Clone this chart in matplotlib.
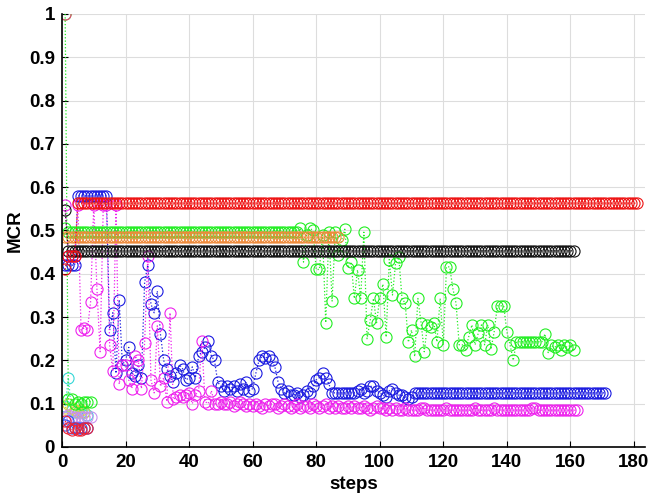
import numpy as np
import matplotlib
matplotlib.use("Agg")
import matplotlib.pyplot as plt
from matplotlib.ticker import FuncFormatter

plt.rcParams["font.family"] = ["Liberation Sans", "DejaVu Sans"]

# MCR per step for each run
red_mcr = [0.41, 0.44, 0.44, 0.44] + [0.563] * 177
black_mcr = [0.547] + [0.453] * 160
orange_mcr = [0.485] * 87

green_mcr = [0.505] + [0.497] * 73 + [
    0.505, 0.427, 0.49, 0.505, 0.5, 0.41, 0.41, 0.49, 0.287, 0.497,
    0.337, 0.497, 0.443, 0.478, 0.503, 0.414, 0.427, 0.343, 0.409, 0.343,
    0.496, 0.25, 0.293, 0.343, 0.287,
    0.344, 0.376, 0.254, 0.433, 0.351, 0.426, 0.438, 0.343, 0.332, 0.242,
    0.27, 0.209, 0.343, 0.287, 0.22, 0.282, 0.278, 0.287, 0.243, 0.343,
    0.236, 0.416, 0.416, 0.366, 0.332, 0.236, 0.236, 0.224, 0.255, 0.282,
    0.236, 0.263, 0.282, 0.236, 0.282, 0.226, 0.266, 0.326, 0.326, 0.326,
    0.266, 0.236, 0.2, 0.243, 0.243, 0.243, 0.243, 0.243, 0.243, 0.243,
    0.243, 0.243, 0.261, 0.218, 0.235, 0.23, 0.235, 0.225, 0.235, 0.23,
    0.235, 0.224]

blue_mcr = [0.42] * 4 + [0.58] * 10 + [
    0.27, 0.31, 0.17, 0.34, 0.19, 0.2, 0.23, 0.17, 0.165, 0.19,
    0.16, 0.38, 0.42, 0.33, 0.31, 0.36, 0.26, 0.2, 0.18, 0.165,
    0.15, 0.17, 0.19, 0.18, 0.155, 0.16, 0.185, 0.16, 0.21, 0.22,
    0.23, 0.245, 0.21, 0.2, 0.15,
    0.14, 0.13, 0.14, 0.135, 0.14, 0.13, 0.145, 0.135, 0.15, 0.13, 0.135,
    0.17, 0.2, 0.21, 0.205, 0.21, 0.2, 0.185, 0.15, 0.135, 0.125,
    0.13, 0.12, 0.12, 0.125, 0.115, 0.12, 0.13, 0.125, 0.14, 0.155,
    0.16, 0.17, 0.16, 0.145, 0.125, 0.125, 0.125, 0.125, 0.125, 0.125,
    0.125, 0.125, 0.13, 0.135, 0.125, 0.13, 0.14, 0.14, 0.13, 0.125,
    0.12, 0.115, 0.13, 0.135, 0.125, 0.12, 0.12, 0.115, 0.11, 0.115, 0.125,
] + [0.125] * 60

magenta_mcr = [
    0.56, 0.44, 0.44, 0.44, 0.56, 0.27, 0.275, 0.27, 0.335, 0.56,
    0.365, 0.22, 0.56, 0.56, 0.235, 0.175, 0.56, 0.145, 0.19, 0.19,
    0.155, 0.135, 0.21, 0.2, 0.135, 0.24, 0.44, 0.155, 0.125, 0.28,
    0.14, 0.16, 0.105, 0.31, 0.11, 0.115, 0.12, 0.115, 0.12, 0.125,
    0.1, 0.12, 0.13, 0.245, 0.105, 0.1, 0.13, 0.1, 0.1,
    0.105, 0.1, 0.1, 0.105, 0.095, 0.1, 0.105, 0.1, 0.095, 0.1, 0.095,
    0.1, 0.095, 0.09, 0.1, 0.095, 0.1, 0.1, 0.09, 0.095, 0.1,
    0.095, 0.09, 0.095, 0.1, 0.09, 0.095, 0.095, 0.09, 0.1, 0.095,
    0.09, 0.095, 0.1, 0.09, 0.095, 0.09, 0.095, 0.09, 0.09, 0.095,
    0.09, 0.095, 0.09, 0.09, 0.095, 0.09, 0.085, 0.09, 0.095, 0.09,
    0.09, 0.085, 0.09, 0.085, 0.09, 0.085, 0.085, 0.09, 0.085, 0.085,
    0.085, 0.085, 0.09, 0.09, 0.085, 0.085, 0.085, 0.085, 0.085, 0.085,
    0.09, 0.085, 0.085, 0.085, 0.085, 0.085, 0.085, 0.085, 0.085, 0.09,
    0.085, 0.085, 0.085, 0.085, 0.085, 0.09, 0.085, 0.085, 0.085, 0.085,
    0.085, 0.085, 0.085, 0.085, 0.085, 0.085, 0.085, 0.09, 0.09, 0.085,
    0.085, 0.085, 0.085, 0.085, 0.085, 0.085, 0.085, 0.085, 0.085, 0.085,
    0.085, 0.085]

# short runs that stop after a few steps
lime_mcr = [1.0, 0.11, 0.11, 0.1, 0.105, 0.1, 0.105, 0.105, 0.105]
cyan_mcr = [0.095, 0.16, 0.085, 0.08, 0.08, 0.08, 0.08, 0.075]
olive_mcr = [0.09, 0.1, 0.09, 0.085, 0.08, 0.085, 0.08]
violet_mcr = [0.07, 0.075, 0.07, 0.07, 0.065, 0.07, 0.07, 0.07, 0.07]
blue2_mcr = [0.05, 0.06, 0.045, 0.045, 0.045, 0.045, 0.045, 0.045]
red2_mcr = [0.06, 0.045, 0.04, 0.045, 0.04, 0.04, 0.045, 0.045]

runs = [
    (cyan_mcr, "#33d6d6"),
    (olive_mcr, "#d8d040"),
    (violet_mcr, "#c890f0"),
    (lime_mcr, "#22ee22"),
    (blue2_mcr, "#3355ee"),
    (red2_mcr, "#ee2233"),
    (blue_mcr, "#1a1ae0"),
    (magenta_mcr, "#ee22ee"),
    (green_mcr, "#22ee22"),
    (orange_mcr, "#ee8a3a"),
    (black_mcr, "#111111"),
    (red_mcr, "#ee1111"),
]

fig = plt.figure(figsize=(6.49, 4.96), dpi=100)
ax = fig.add_axes([0.0955, 0.0988, 0.8985, 0.873])

for vals, col in runs:
    steps = np.arange(1, len(vals) + 1)
    ax.plot(steps, vals, linestyle=":", linewidth=0.9, color=col,
            marker="o", markersize=8, markerfacecolor="none",
            markeredgewidth=0.8)

# start point of the lime run sits under a pink marker
ax.plot([1], [1.0], linestyle="none", marker="o", markersize=8,
        markerfacecolor="none", markeredgecolor="#f0407a", markeredgewidth=0.8)

ax.set_xlim(0, 183.5)
ax.set_ylim(0, 1)
ax.set_xticks(np.arange(0, 181, 20))
ax.set_yticks(np.arange(0, 1.01, 0.1))
ax.yaxis.set_major_formatter(FuncFormatter(lambda v, p: "%g" % round(v, 1)))
ax.grid(True, color="#dddddd", linewidth=0.8)
ax.set_axisbelow(True)
ax.tick_params(direction="in", length=4, labelsize=13.5, pad=5)
for lab in ax.get_xticklabels() + ax.get_yticklabels():
    lab.set_fontweight("bold")
for s in ["top", "right"]:
    ax.spines[s].set_visible(False)
for s in ["left", "bottom"]:
    ax.spines[s].set_linewidth(1.2)

ax.set_xlabel("steps", fontsize=13.5, fontweight="bold", labelpad=4)
ax.set_ylabel("MCR", fontsize=13.5, fontweight="bold", labelpad=4)

fig.savefig("out.png", dpi=100)
